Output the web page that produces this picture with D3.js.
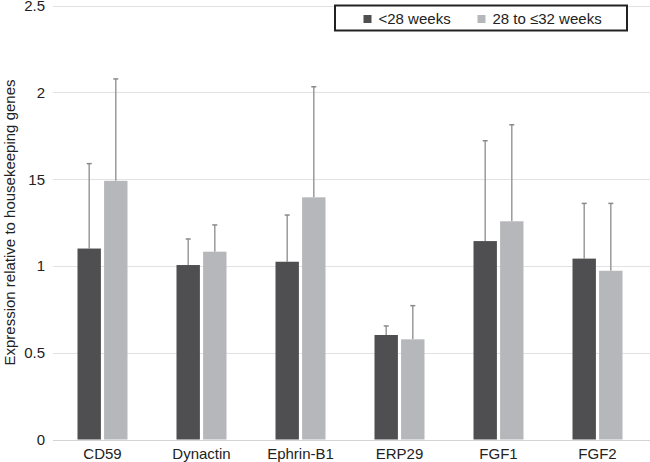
<!DOCTYPE html>
<html>
<head>
<meta charset="utf-8">
<script src="https://cdn.jsdelivr.net/npm/d3@7/dist/d3.min.js"></script>
<style>
html,body{margin:0;padding:0;background:#fff;}
svg{display:block;font-family:"Liberation Sans",Arial,sans-serif;}
</style>
</head>
<body>
<svg id="chart" width="650" height="462"></svg>
<script>
const categories = ["CD59","Dynactin","Ephrin-B1","ERP29","FGF1","FGF2"];
const seriesNames = ["<28 weeks","28 to \u226432 weeks"];
const under28 = [1.10, 1.005, 1.024, 0.602, 1.143, 1.042];
const under28Err = [1.589, 1.155, 1.293, 0.654, 1.721, 1.36];
const to32 = [1.49, 1.082, 1.395, 0.577, 1.257, 0.972];
const to32Err = [2.077, 1.236, 2.032, 0.771, 1.813, 1.36];
const tickValues = [0, 0.5, 1, 1.5, 2, 2.5];
const tickLabels = ["0", "0.5", "1", "15", "2", "2.5"];
const colors = ["#4f4f51", "#b6b7ba"];

const svg = d3.select("#chart");
const plotLeft = 53, plotRight = 647, plotTop = 5.5, plotBottom = 439.5;

const y = d3.scaleLinear().domain([0, 2.5]).range([plotBottom, plotTop]);
const x = d3.scaleBand().domain(categories).range([plotLeft, plotRight]);
const sub = d3.scaleBand().domain([0,1]).range([x.bandwidth()/2 - 25, x.bandwidth()/2 + 25]).paddingInner(6/50);

// gridlines
svg.append("g").selectAll("line").data(tickValues).join("line")
  .attr("x1", plotLeft).attr("x2", 650)
  .attr("y1", d => Math.round(y(d)) + 0.5).attr("y2", d => Math.round(y(d)) + 0.5)
  .attr("stroke", d => d === 0 ? "#d4d4d4" : "#e2e2e2").attr("stroke-width", 1);

// y tick labels
svg.append("g").selectAll("text").data(tickValues).join("text")
  .attr("x", 45).attr("y", d => y(d)).attr("dy", "0.36em")
  .attr("text-anchor", "end").attr("font-size", 15).attr("fill", "#222")
  .text((d, i) => tickLabels[i]);

// y title
svg.append("text")
  .attr("transform", `translate(14.5,${(plotTop+plotBottom)/2}) rotate(-90)`)
  .attr("text-anchor", "middle").attr("font-size", 15).attr("fill", "#222")
  .text("Expression relative to housekeeping genes");

// x labels
svg.append("g").selectAll("text").data(categories).join("text")
  .attr("x", d => x(d) + x.bandwidth()/2).attr("y", 458.5)
  .attr("text-anchor", "middle").attr("font-size", 15).attr("fill", "#222")
  .text(d => d);

const series = [
  {vals: under28, errs: under28Err},
  {vals: to32, errs: to32Err}
];

series.forEach((s, si) => {
  const g = svg.append("g");
  const data = categories.map((c, i) => ({c, v: s.vals[i], e: s.errs[i]}));
  g.selectAll("line.err").data(data).join("line")
    .attr("class", "err")
    .attr("x1", d => x(d.c) + sub(si) + sub.bandwidth()/2)
    .attr("x2", d => x(d.c) + sub(si) + sub.bandwidth()/2)
    .attr("y1", d => y(d.v)).attr("y2", d => y(d.e))
    .attr("stroke", "#9a9a9a").attr("stroke-width", 1.5);
  g.selectAll("line.cap").data(data).join("line")
    .attr("class", "cap")
    .attr("x1", d => x(d.c) + sub(si) + sub.bandwidth()/2 - 2.5)
    .attr("x2", d => x(d.c) + sub(si) + sub.bandwidth()/2 + 2.5)
    .attr("y1", d => y(d.e)).attr("y2", d => y(d.e))
    .attr("stroke", "#8a8a8a").attr("stroke-width", 1.5);
  g.selectAll("rect").data(data).join("rect")
    .attr("x", d => x(d.c) + sub(si))
    .attr("width", sub.bandwidth())
    .attr("y", d => y(d.v))
    .attr("height", d => y(0) - y(d.v))
    .attr("fill", colors[si]);
});

// legend
const lg = svg.append("g");
lg.append("rect").attr("x", 335).attr("y", 5.5).attr("width", 292).attr("height", 25)
  .attr("fill", "#fff").attr("stroke", "#222").attr("stroke-width", 2);
const legendX = [363.5, 477.5];
seriesNames.forEach((n, i) => {
  lg.append("rect").attr("x", legendX[i]).attr("y", 15).attr("width", 8).attr("height", 8).attr("fill", colors[i]);
  lg.append("text").attr("x", legendX[i] + 15).attr("y", 19).attr("dy", "0.36em")
    .attr("font-size", 15).attr("fill", "#222").text(n);
});
</script>
</body>
</html>
